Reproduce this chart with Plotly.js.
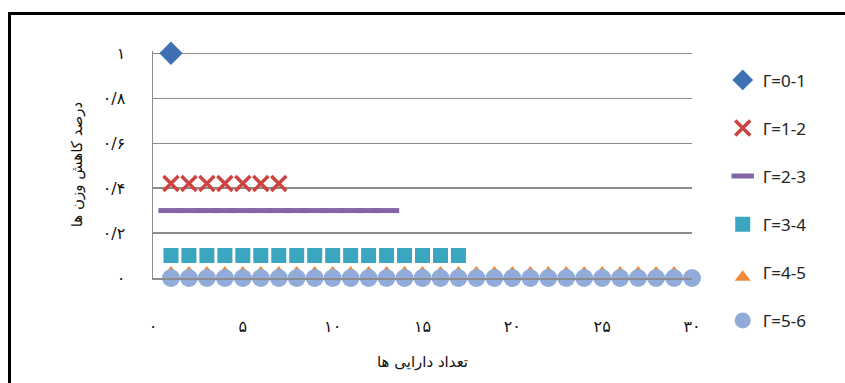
<!DOCTYPE html>
<html>
<head>
<meta charset="utf-8">
<script src="https://cdn.plot.ly/plotly-3.0.1.min.js"></script>
<style>
  html, body { margin: 0; padding: 0; background: #fff; overflow: hidden; }
  #chart { position: absolute; left: 0; top: 0; width: 845px; height: 383px; }
  #frame { position: absolute; left: 8px; top: 12px; width: 900px; height: 420px;
           border-left: 3px solid #000; border-top: 3px solid #000; pointer-events: none; }
</style>
</head>
<body>
<div id="chart"></div>
<div id="frame"></div>
<script>
// Number of assets (x) vs. share of weight reduction (y), one series per Γ band
const seriesNames = ['Γ=0-1', 'Γ=1-2', 'Γ=2-3', 'Γ=3-4', 'Γ=4-5', 'Γ=5-6'];

const g01X = [1];
const g01Y = [1];

const g12X = [1, 2, 3, 4, 5, 6, 7];
const g12Y = [0.42, 0.42, 0.42, 0.42, 0.42, 0.42, 0.42];

const g23X = [1, 2, 3, 4, 5, 6, 7, 8, 9, 10, 11, 12, 13];
const g23Y = [0.3, 0.3, 0.3, 0.3, 0.3, 0.3, 0.3, 0.3, 0.3, 0.3, 0.3, 0.3, 0.3];

const g34X = [1, 2, 3, 4, 5, 6, 7, 8, 9, 10, 11, 12, 13, 14, 15, 16, 17];
const g34Y = [0.1, 0.1, 0.1, 0.1, 0.1, 0.1, 0.1, 0.1, 0.1, 0.1, 0.1, 0.1, 0.1, 0.1, 0.1, 0.1, 0.1];

const g45X = [1, 2, 3, 4, 5, 6, 7, 8, 9, 10, 11, 12, 13, 14, 15, 16, 17, 18, 19, 20,
              21, 22, 23, 24, 25, 26, 27, 28, 29];
const g45Y = [0, 0, 0, 0, 0, 0, 0, 0, 0, 0, 0, 0, 0, 0, 0, 0, 0, 0, 0, 0,
              0, 0, 0, 0, 0, 0, 0, 0, 0];

const g56X = [1, 2, 3, 4, 5, 6, 7, 8, 9, 10, 11, 12, 13, 14, 15, 16, 17, 18, 19, 20,
              21, 22, 23, 24, 25, 26, 27, 28, 29, 30];
const g56Y = [0, 0, 0, 0, 0, 0, 0, 0, 0, 0, 0, 0, 0, 0, 0, 0, 0, 0, 0, 0,
              0, 0, 0, 0, 0, 0, 0, 0, 0, 0];

// Tick positions and their Persian labels
const xTickVals = [0, 5, 10, 15, 20, 25, 30];
const xTickText = ['۰', '۵', '۱۰', '۱۵', '۲۰', '۲۵', '۳۰'];
const yTickVals = [0, 0.2, 0.4, 0.6, 0.8, 1];
const yTickText = ['۰', '۰/۲', '۰/۴', '۰/۶', '۰/۸', '۱'];

const xTitle = 'تعداد دارایی ها';
const yTitle = 'درصد کاهش وزن ها';

function pts(name, xs, ys, marker, group) {
  return { type: 'scatter', mode: 'markers', name: name, x: xs, y: ys,
           marker: marker, cliponaxis: false, legendgroup: group };
}

const traces = [
  pts(seriesNames[0], g01X, g01Y, { symbol: 'diamond', size: 18, color: '#3f70b4' }, 'a'),
  pts(seriesNames[1], g12X, g12Y, { symbol: 'x-thin', size: 15, color: '#cc4340',
      line: { color: '#cc4340', width: 3.5 } }, 'b'),
  pts(seriesNames[2], g23X, g23Y, { symbol: 'line-ew', size: 18, color: '#8465a6',
      line: { color: '#8465a6', width: 5 } }, 'c'),
  pts(seriesNames[3], g34X, g34Y, { symbol: 'square', size: 15, color: '#3aa6bf' }, 'd'),
  // triangles sit behind the circles; only their tips peek out above them
  pts(seriesNames[4], g45X, g45Y, { symbol: 'triangle-down', angle: 180, standoff: 5,
      size: 14, color: '#ee8a3a' }, 'e'),
  pts(seriesNames[5], g56X, g56Y, { symbol: 'circle', size: 18, color: '#92acd9' }, 'f')
];

const persianFont = { family: 'DejaVu Sans, Noto Sans, sans-serif', size: 16, color: '#111' };
const titleFont = { family: 'DejaVu Sans, Noto Sans, sans-serif', size: 15, color: '#111' };

const layout = {
  width: 845, height: 383,
  margin: { l: 153, r: 153, t: 51, b: 105 },
  paper_bgcolor: '#fff', plot_bgcolor: '#fff',
  showlegend: true,
  legend: {
    x: 1.057, xanchor: 'left', y: 0.95, yanchor: 'top',
    font: { family: 'Noto Sans, Open Sans, sans-serif', size: 17, color: '#222' },
    tracegroupgap: 23, traceorder: 'grouped', maxheight: 1000,
    bgcolor: 'rgba(0,0,0,0)'
  },
  xaxis: {
    range: [0, 30], tickvals: xTickVals, ticktext: xTickText,
    showgrid: false, zeroline: false, showline: true, linecolor: '#8c8c8c', linewidth: 1.5,
    ticks: 'outside', ticklen: 33, tickcolor: 'rgba(0,0,0,0)',
    tickfont: persianFont,
    title: { text: xTitle, font: titleFont, standoff: 22 }
  },
  yaxis: {
    range: [0, 1.01], tickvals: yTickVals, ticktext: yTickText,
    showgrid: true, gridcolor: '#8c8c8c', gridwidth: 1.3,
    zeroline: false, showline: true, linecolor: '#8c8c8c', linewidth: 1.5,
    ticks: 'outside', ticklen: 23, tickcolor: 'rgba(0,0,0,0)',
    tickfont: persianFont,
    title: { text: yTitle, font: titleFont, standoff: 16 }
  }
};

Plotly.newPlot('chart', traces, layout, { displayModeBar: false, staticPlot: true });
</script>
</body>
</html>
